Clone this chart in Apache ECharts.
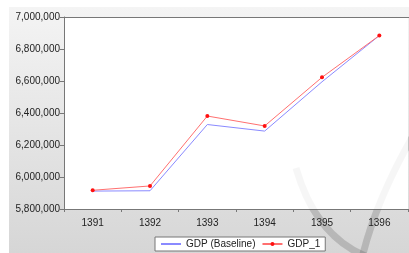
<!DOCTYPE html>
<html>
<head>
<meta charset="utf-8">
<script src="https://cdn.jsdelivr.net/npm/echarts@6/dist/echarts.min.js"></script>
<style>
  html, body { margin: 0; padding: 0; background: #fff; }
  #main { width: 409px; height: 253px; }
</style>
</head>
<body>
<div id="main"></div>
<script>
// chart data
var years = ["1391", "1392", "1393", "1394", "1395", "1396"];
var gdpBaseline = [5912000, 5914000, 6328000, 6287000, 6595000, 6884000];
var gdp1 = [5917000, 5944000, 6381000, 6319000, 6623000, 6884000];
var yTicks = { min: 5800000, max: 7000000, step: 200000 };

var myChart = echarts.init(document.getElementById("main"));

// watermark arcs, drawn once under the plot and once very faint over it
function arcs(z, color) {
  return [
    {
      type: "bezierCurve",
      z: z,
      silent: true,
      shape: { x1: 296, y1: 168, cpx1: 316, cpy1: 238, x2: 370, y2: 258 },
      style: { stroke: color, lineWidth: 7, fill: null }
    },
    {
      type: "bezierCurve",
      z: z,
      silent: true,
      shape: { x1: 414, y1: 134, cpx1: 376, cpy1: 200, x2: 362, y2: 258 },
      style: { stroke: color, lineWidth: 7, fill: null }
    }
  ];
}

var option = {
  animation: false,
  backgroundColor: "#ffffff",
  graphic: [
    {
      // grey panel behind the chart
      type: "rect",
      z: -10,
      silent: true,
      shape: { x: 9, y: 7, width: 400, height: 246 },
      style: {
        fill: new echarts.graphic.LinearGradient(0, 0, 0, 1, [
          { offset: 0, color: "#f4f4f4" },
          { offset: 1, color: "#d6d6d6" }
        ])
      }
    },
    {
      // top border of the plot area
      type: "line",
      z: 50,
      silent: true,
      shape: { x1: 64, y1: 17.5, x2: 409, y2: 17.5 },
      style: { stroke: "#777", lineWidth: 1 }
    }
  ]
    .concat(arcs(-5, "rgba(100,100,100,0.22)"))
    .concat(arcs(1, "rgba(0,0,0,0.035)")),
  grid: {
    left: 64,
    top: 17,
    right: 1,
    bottom: 44,
    show: true,
    backgroundColor: "#ffffff",
    borderWidth: 0
  },
  legend: {
    left: 155,
    top: 237,
    itemWidth: 20,
    itemHeight: 5,
    itemGap: 6,
    padding: [2, 5, 2, 5],
    backgroundColor: "#ffffff",
    borderColor: "#777",
    borderWidth: 1,
    borderRadius: 0,
    textStyle: { fontFamily: "Liberation Sans", fontSize: 10, color: "#222" },
    data: [
      { name: "GDP (Baseline)", itemStyle: { opacity: 0 } },
      { name: "GDP_1" }
    ]
  },
  xAxis: {
    type: "category",
    data: years,
    boundaryGap: true,
    axisLine: { lineStyle: { color: "#777", width: 1 } },
    axisTick: { show: true, length: 3, lineStyle: { color: "#777" } },
    axisLabel: {
      fontFamily: "Liberation Sans",
      fontSize: 10,
      color: "#222",
      margin: 9
    },
    splitLine: { show: false }
  },
  yAxis: {
    type: "value",
    min: yTicks.min,
    max: yTicks.max,
    interval: yTicks.step,
    axisLine: { show: true, lineStyle: { color: "#777", width: 1 } },
    axisTick: { show: true, length: 4, lineStyle: { color: "#777" } },
    axisLabel: {
      fontFamily: "Liberation Sans",
      fontSize: 10,
      color: "#222",
      margin: 4,
      formatter: function (v) {
        return v.toLocaleString("en-US");
      }
    },
    splitLine: { show: false }
  },
  series: [
    {
      name: "GDP (Baseline)",
      type: "line",
      data: gdpBaseline,
      symbol: "none",
      lineStyle: { color: "#8a8aff", width: 1 },
      itemStyle: { color: "#8a8aff" },
      z: 2
    },
    {
      name: "GDP_1",
      type: "line",
      data: gdp1,
      symbol: "circle",
      symbolSize: 4,
      lineStyle: { color: "#ff7070", width: 1 },
      itemStyle: { color: "#ff1010" },
      z: 3
    }
  ]
};

myChart.setOption(option);
</script>
</body>
</html>
